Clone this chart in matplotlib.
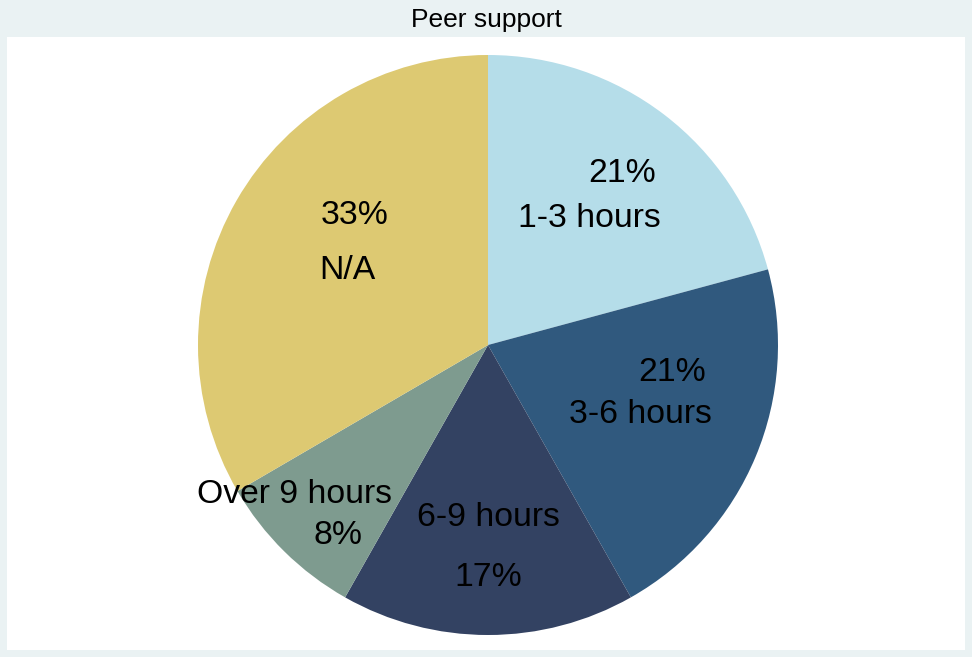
import matplotlib.pyplot as plt

plt.rcParams['font.family'] = ['Liberation Sans', 'DejaVu Sans']

# data (clockwise from 12 o'clock)
categories = ['1-3 hours', '3-6 hours', '6-9 hours', 'Over 9 hours', 'N/A']
shares = [20.8, 21.0, 16.4, 8.4, 33.4]
pct_labels = ['21%', '21%', '17%', '8%', '33%']
colors = ['#b5dde9', '#30597e', '#334262', '#7e9b8f', '#ddc972']

# label placement (pie radius = 1): name position, percent position
name_pos = [(0.35, 0.435), (0.525, -0.238), (0.0, -0.596), (-0.666, -0.517), (-0.486, 0.256)]
pct_pos = [(0.462, 0.593), (0.634, -0.096), (0.0, -0.803), (-0.517, -0.658), (-0.459, 0.445)]

W, H = 972, 657
fig = plt.figure(figsize=(W / 100, H / 100), dpi=100)
fig.patch.set_facecolor('#eaf2f3')

# white plot region in pixels
left, right, top, bottom = 7, 965, 37, 650
cx, cy, r = 488, 345, 290
ax = fig.add_axes([left / W, (H - bottom) / H, (right - left) / W, (bottom - top) / H])

ax.pie(shares, colors=colors, startangle=90, counterclock=False, radius=1,
       wedgeprops=dict(linewidth=0))
ax.set_frame_on(True)
ax.set_facecolor('white')
ax.set_aspect('auto')
ax.set_xlim((left - cx) / r, (right - cx) / r)
ax.set_ylim((cy - bottom) / r, (cy - top) / r)
ax.set_xticks([])
ax.set_yticks([])
for s in ax.spines.values():
    s.set_visible(False)

for name, pct, npos, ppos in zip(categories, pct_labels, name_pos, pct_pos):
    ax.text(npos[0], npos[1], name, ha='center', va='center', fontsize=24.3, color='black')
    ax.text(ppos[0], ppos[1], pct, ha='center', va='center', fontsize=24.3, color='black')

fig.text(0.5, 1 - 20 / H, 'Peer support', ha='center', va='center', fontsize=19, color='black')

fig.savefig('out.png', dpi=100, facecolor=fig.get_facecolor())
